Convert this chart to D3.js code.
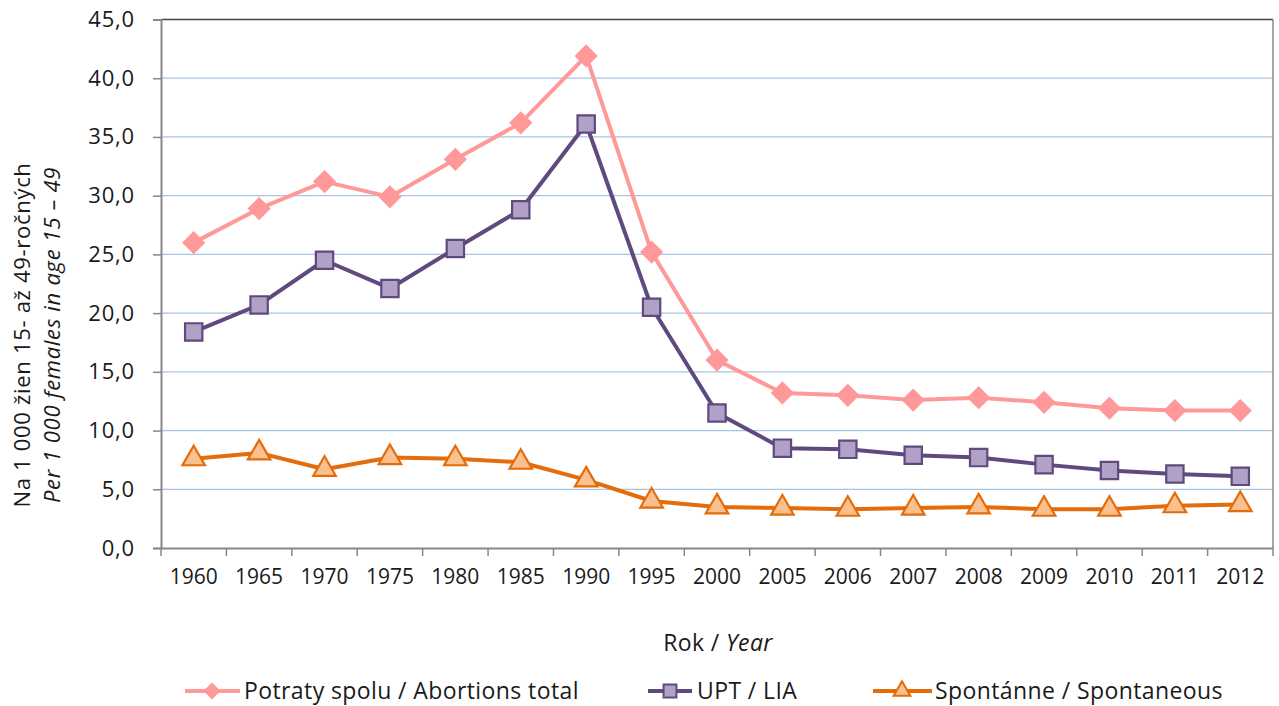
<!DOCTYPE html>
<html><head><meta charset="utf-8">
<script src="https://cdn.jsdelivr.net/npm/d3@7"></script>
<style>body{margin:0;background:#fff;} text{font-family:"Open Sans",sans-serif;fill:#1a1a1a;}</style>
</head><body>
<svg id="c" width="1279" height="706"></svg>
<script>
const years = ["1960","1965","1970","1975","1980","1985","1990","1995","2000","2005","2006","2007","2008","2009","2010","2011","2012"];
const totalVals = [26.0,28.9,31.2,29.9,33.1,36.2,41.9,25.2,16.0,13.2,13.0,12.6,12.8,12.4,11.9,11.7,11.7];
const upt = [18.4,20.7,24.5,22.1,25.5,28.8,36.1,20.5,11.5,8.5,8.4,7.9,7.7,7.1,6.6,6.3,6.1];
const spont = [7.6,8.1,6.7,7.7,7.6,7.3,5.8,4.0,3.5,3.4,3.3,3.4,3.5,3.3,3.3,3.6,3.7];
const yTicks = [0,5,10,15,20,25,30,35,40,45];

const svg = d3.select("#c");
const L=161, R=1273, T=19.5, B=548;
const x = d3.scaleBand().domain(years).range([L,R]);
const y = d3.scaleLinear().domain([0,45]).range([B,T]);
const fmt = v => d3.format(".1f")(v).replace(".",",");

// gridlines
svg.append("g").selectAll("line").data(yTicks.filter(d=>d>0&&d<45)).join("line")
 .attr("x1",L).attr("x2",R).attr("y1",d=>y(d)).attr("y2",d=>y(d))
 .attr("stroke","#a9c3e3").attr("stroke-width",1.3);
// border top/right
svg.append("line").attr("x1",L).attr("x2",R).attr("y1",y(45)).attr("y2",y(45)).attr("stroke","#444").attr("stroke-width",1.3);
svg.append("line").attr("x1",R).attr("x2",R).attr("y1",T).attr("y2",B).attr("stroke","#888").attr("stroke-width",1.5);

// y axis
const ya = svg.append("g").attr("transform",`translate(${L},0)`)
 .call(d3.axisLeft(y).tickValues(yTicks).tickFormat(fmt).tickSize(8).tickPadding(18));
ya.select(".domain").attr("stroke","#888").attr("stroke-width",2);
ya.selectAll(".tick line").attr("stroke","#888").attr("stroke-width",1.5);
ya.selectAll("text").attr("font-size",22).attr("fill","#1a1a1a").attr("letter-spacing",0.8);

// x axis
const xa = svg.append("g").attr("transform",`translate(0,${B})`)
 .call(d3.axisBottom(x).tickSize(0).tickPadding(21));
xa.select(".domain").attr("stroke","#888").attr("stroke-width",2);
xa.selectAll("text").attr("font-size",21).attr("fill","#1a1a1a");
const edges = years.map(d=>x(d)).concat([R]);
svg.append("g").selectAll("line").data(edges).join("line")
 .attr("x1",d=>d).attr("x2",d=>d).attr("y1",B).attr("y2",B+8).attr("stroke","#888").attr("stroke-width",1.5);

const cx = d => x(d)+x.bandwidth()/2;

// axis titles
const yt = svg.append("text").attr("transform","translate(30,335) rotate(-90)").attr("text-anchor","middle").attr("font-size",22).attr("letter-spacing",0.7);
yt.append("tspan").attr("x",0).attr("dy",0).text("Na 1 000 žien 15- až 49-ročných");
yt.append("tspan").attr("x",0).attr("dy",30).attr("font-style","italic").text("Per 1 000 females in age 15 – 49");
const xt = svg.append("text").attr("x",718).attr("y",651).attr("text-anchor","middle").attr("font-size",23).attr("letter-spacing",0.4);
xt.append("tspan").text("Rok / ");
xt.append("tspan").attr("font-style","italic").text("Year");

const series = [
 {vals:spont, line:"#e46c0a", fill:"#fac090", stroke:"#e46c0a", sym:d3.symbolTriangle, size:220, rot:0},
 {vals:upt, line:"#5f4a7f", fill:"#b2a1c7", stroke:"#5f4a7f", sym:d3.symbolSquare, size:300, rot:0},
 {vals:totalVals, line:"#ff9999", fill:"#ff9999", stroke:"none", sym:d3.symbolSquare, size:270, rot:45},
];
const line = d3.line().x((d,i)=>cx(years[i])).y(d=>y(d));
series.forEach(s=>{
 svg.append("path").datum(s.vals).attr("d",line).attr("fill","none").attr("stroke",s.line).attr("stroke-width",4).attr("stroke-linejoin","round");
 svg.append("g").selectAll("path").data(s.vals).join("path")
  .attr("transform",(d,i)=>`translate(${cx(years[i])},${y(d)}) rotate(${s.rot})`)
  .attr("d",d3.symbol().type(s.sym).size(s.size))
  .attr("fill",s.fill).attr("stroke",s.stroke).attr("stroke-width",2.2);
});

// legend
const leg = [
 {x1:185,x2:240,mx:212,tx:244,label:"Potraty spolu / Abortions total",s:series[2]},
 {x1:648,x2:692,mx:670,tx:697,label:"UPT / LIA",s:series[1]},
 {x1:873,x2:932,mx:902,tx:935,label:"Spontánne / Spontaneous",s:series[0]},
];
const ly=691;
leg.forEach(l=>{
 svg.append("line").attr("x1",l.x1).attr("x2",l.x2).attr("y1",ly).attr("y2",ly).attr("stroke",l.s.line).attr("stroke-width",4);
 svg.append("path").attr("transform",`translate(${l.mx},${ly}) rotate(${l.s.rot})`).attr("d",d3.symbol().type(l.s.sym).size(l.s.size*0.55))
  .attr("fill",l.s.fill).attr("stroke",l.s.stroke).attr("stroke-width",2);
 svg.append("text").attr("x",l.tx).attr("y",ly+8).attr("font-size",23).attr("letter-spacing",0.4).text(l.label);
});
</script>
</body></html>
